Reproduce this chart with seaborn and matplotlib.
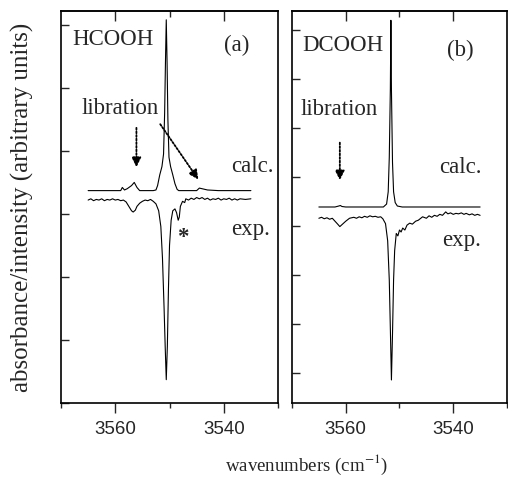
import numpy as np
import pandas as pd
import seaborn as sns
import matplotlib.pyplot as plt

# (a) HCOOH - calculated spectrum (wavenumber, arbitrary intensity)
wn_a_calc = [3565, 3560, 3559, 3558.7, 3558.3, 3557.8, 3557, 3556.5, 3556, 3555.5,
             3554, 3553, 3552.5, 3552.2, 3551.8, 3551.4, 3551.1, 3550.9, 3550.75, 3550.6,
             3550.45, 3550.3, 3550.1, 3549.8, 3549.4, 3549.0, 3548.6, 3548.3, 3545, 3544.5,
             3544, 3543, 3541, 3535]
y_a_calc = [3.37, 3.37, 3.37, 3.42, 3.38, 3.40, 3.45, 3.50, 3.42, 3.37,
            3.37, 3.37, 3.38, 3.45, 3.62, 3.75, 3.95, 4.60, 5.40, 6.08,
            5.40, 4.50, 3.90, 3.75, 3.62, 3.48, 3.39, 3.37, 3.37, 3.41,
            3.40, 3.38, 3.37, 3.37]

# (a) HCOOH - experimental spectrum
wn_a_exp = [3565, 3564.5, 3564, 3563.5, 3563, 3562.5, 3562, 3561.5, 3561, 3560.5,
            3560, 3559.5, 3559, 3558.5, 3558, 3557.5, 3557, 3556.7, 3556.3, 3556,
            3555.5, 3555, 3554.5, 3554, 3553.5, 3553, 3552.5, 3552, 3551.6, 3551.3,
            3551.0, 3550.8, 3550.6, 3550.4, 3550.2, 3550.0, 3549.7, 3549.4, 3549.0, 3548.7,
            3548.4, 3548.2, 3548.0, 3547.6, 3547.2, 3547, 3546.5, 3546, 3545.5, 3545,
            3544.5, 3544, 3543.5, 3543, 3542.5, 3542, 3541.5, 3541, 3540.5, 3540,
            3539.5, 3539, 3538.5, 3538, 3537.5, 3537, 3536, 3535]
y_a_exp = [3.22, 3.24, 3.21, 3.23, 3.22, 3.24, 3.21, 3.23, 3.22, 3.24,
           3.22, 3.23, 3.21, 3.22, 3.19, 3.12, 3.05, 3.03, 3.06, 3.12,
           3.17, 3.20, 3.22, 3.21, 3.23, 3.20, 3.16, 3.05, 2.80, 2.30,
           1.50, 0.90, 0.37, 0.90, 1.80, 2.50, 2.90, 3.05, 3.08, 3.02,
           2.90, 2.95, 3.12, 3.20, 3.18, 3.24, 3.22, 3.25, 3.23, 3.26,
           3.24, 3.26, 3.23, 3.25, 3.22, 3.24, 3.23, 3.25, 3.22, 3.24,
           3.23, 3.25, 3.22, 3.24, 3.22, 3.24, 3.23, 3.24]

# (b) DCOOH - calculated spectrum
wn_b_calc = [3565, 3562, 3561.3, 3561, 3560.7, 3560, 3555, 3553, 3552.4, 3552.1,
             3551.9, 3551.7, 3551.6, 3551.5, 3551.3, 3551.1, 3550.8, 3550.4, 3549.5, 3545,
             3535]
y_b_calc = [3.39, 3.39, 3.41, 3.42, 3.40, 3.39, 3.39, 3.39, 3.45, 3.70,
            4.40, 5.80, 7.20, 5.80, 4.30, 3.70, 3.48, 3.41, 3.39, 3.39,
            3.39]

# (b) DCOOH - experimental spectrum
wn_b_exp = [3565, 3564.5, 3564, 3563.5, 3563, 3562.5, 3562, 3561.5, 3561.1, 3560.6,
            3560, 3559.3, 3558.5, 3558, 3557.5, 3557, 3556.5, 3556, 3555.5, 3555,
            3554.5, 3554, 3553.5, 3553.1, 3552.6, 3552.2, 3551.9, 3551.7, 3551.5, 3551.3,
            3551.1, 3550.9, 3550.6, 3550.3, 3550.0, 3549.7, 3549.4, 3549.0, 3548.6, 3548.1,
            3547.6, 3547, 3546.5, 3545.7, 3545, 3544.5, 3544, 3543.5, 3543, 3542.5,
            3542, 3541.4, 3541, 3540.5, 3540, 3539.5, 3539, 3538.5, 3538, 3537.6,
            3537, 3536.5, 3536, 3535.5, 3535]
y_b_exp = [3.16, 3.18, 3.15, 3.17, 3.14, 3.16, 3.10, 3.04, 2.99, 3.04,
           3.10, 3.16, 3.18, 3.16, 3.19, 3.17, 3.20, 3.18, 3.21, 3.19,
           3.20, 3.18, 3.19, 3.15, 3.05, 2.70, 1.90, 0.90, -0.14, 0.80,
           1.90, 2.50, 2.85, 2.80, 2.92, 2.88, 2.96, 2.92, 3.02, 3.06,
           3.04, 3.10, 3.12, 3.19, 3.16, 3.21, 3.18, 3.22, 3.20, 3.24,
           3.22, 3.29, 3.25, 3.27, 3.24, 3.26, 3.25, 3.27, 3.24, 3.26,
           3.23, 3.25, 3.22, 3.24, 3.22]

x_major = [3560, 3540]
x_minor = [3570, 3550, 3530]

sns.set_style("ticks")
plt.rcParams['font.family'] = ['Liberation Serif', 'DejaVu Serif']
plt.rcParams['mathtext.fontset'] = 'stix'

fig = plt.figure(figsize=(5.08, 4.82), dpi=100)
ax1 = fig.add_axes([0.1201, 0.1639, 0.4272, 0.8133])
ax2 = fig.add_axes([0.5748, 0.1639, 0.4232, 0.8133])

line_kw = dict(color='black', linewidth=0.8, estimator=None, sort=False, legend=False)

sns.lineplot(x=wn_a_calc, y=y_a_calc, ax=ax1, **line_kw)
sns.lineplot(x=wn_a_exp, y=y_a_exp, ax=ax1, **line_kw)
sns.lineplot(x=wn_b_calc, y=y_b_calc, ax=ax2, **line_kw)
sns.lineplot(x=wn_b_exp, y=y_b_exp, ax=ax2, **line_kw)

ax1.set_ylim(0, 6.22)
ax1.set_yticks([0, 1, 2, 3, 4, 5, 6])
ax2.set_ylim(-0.61, 7.39)
ax2.set_yticks([0, 1, 2, 3, 4, 5, 6, 7])

for ax in (ax1, ax2):
    ax.set_xlim(3570, 3530)
    ax.set_xticks(x_major)
    ax.set_xticks(x_minor, minor=True)
    ax.set_xticklabels([str(v) for v in x_major], family='Liberation Sans', fontsize=13.5)
    ax.set_yticklabels([])
    ax.set_xlabel('')
    ax.set_ylabel('')
    for s in ax.spines.values():
        s.set_visible(True)
        s.set_linewidth(1.2)
        s.set_color('black')
    ax.tick_params(axis='x', which='major', direction='out', length=7, width=1, pad=6)
    ax.tick_params(axis='x', which='minor', direction='out', length=3.5, width=1)
    ax.tick_params(axis='y', which='major', direction='in', length=6, width=1)
    top = ax.secondary_xaxis('top')
    top.set_xticks(x_major)
    top.set_xticks([3550], minor=True)
    top.set_xticklabels([])
    top.tick_params(axis='x', which='major', direction='in', length=7, width=1)
    top.tick_params(axis='x', which='minor', direction='in', length=4, width=1)
    top.spines['top'].set_linewidth(1.2)

txt = dict(fontsize=16.5, va='center', ha='left')
ax1.text(3567.96, 5.76, 'HCOOH', **txt)
ax1.text(3540.0, 5.68, '(a)', **txt)
ax1.text(3566.3, 4.68, 'libration', **txt)
ax1.text(3538.7, 3.76, 'calc.', **txt)
ax1.text(3538.7, 2.75, 'exp.', **txt)
ax1.text(3547.6, 2.62, '*', fontsize=16.5, va='center', ha='center', fontweight='bold')

ax2.text(3568.0, 6.69, 'DCOOH', **txt)
ax2.text(3541.1, 6.59, '(b)', **txt)
ax2.text(3568.5, 5.37, 'libration', **txt)
ax2.text(3542.6, 4.20, 'calc.', **txt)
ax2.text(3542.0, 2.71, 'exp.', **txt)

arrow = dict(arrowstyle='-|>', linestyle=(0, (1, 1)), color='black', lw=1.3,
             mutation_scale=14)
ax1.annotate('', xy=(3556.1, 3.70), xytext=(3556.1, 4.41), arrowprops=arrow)
ax1.annotate('', xy=(3544.4, 3.51), xytext=(3552.0, 4.46), arrowprops=arrow)
ax2.annotate('', xy=(3561.1, 3.88), xytext=(3561.1, 4.76), arrowprops=arrow)

fig.text(22 / 508, 0.570, 'absorbance/intensity (arbitrary units)', rotation=90,
         fontsize=18, va='center', ha='center')
fig.text(0.604, 0.035, 'wavenumbers (cm$^{\\mathrm{-1}}$)', fontsize=13.6,
         va='center', ha='center')

fig.savefig('out.png', dpi=100)
